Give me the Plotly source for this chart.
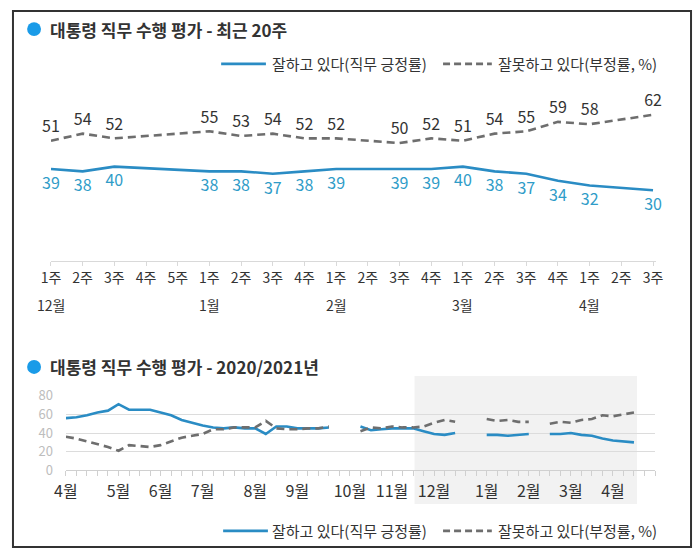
import plotly.graph_objects as go
import pandas as pd

W, H = 699, 557
FONT = "Noto Sans CJK KR"

# ---------------- data: last 20 weeks (top chart) ----------------
week_labels = ["1주", "2주", "3주", "4주", "5주",
               "1주", "2주", "3주", "4주",
               "1주", "2주", "3주", "4주",
               "1주", "2주", "3주", "4주",
               "1주", "2주", "3주"]
month_labels = ["12월", "1월", "2월", "3월", "4월"]
month_first_week = [0, 5, 9, 13, 17]
recent_pos = [39, 38, 40, None, None, 38, 38, 37, 38, 39, None, 39, 39, 40, 38, 37, 34, 32, None, 30]
recent_neg = [51, 54, 52, None, None, 55, 53, 54, 52, 52, None, 50, 52, 51, 54, 55, 59, 58, None, 62]

# ---------------- data: 2020/2021 weekly (bottom chart) ----------------
first_week = "2020-04-02"
n_weeks = 55
early_pos = [56, 57, 59, 62, 64, 71, 65, 65, 65, 62, 59, 54, 51, 48, 46, 45, 46, 45, 45, 39,
             47, 47, 45, 45, 45, 46, None, None, 47, 43, 44, 45, 45, 45, 42]
early_neg = [36, 34, 31, 28, 25, 21, 27, 26, 25, 27, 31, 35, 37, 39, 44, 44, 46, 46, 46, 53,
             45, 44, 44, 45, 45, 47, None, None, 42, 46, 45, 47, 46, 46, 47]
joined_weeks = ["2021-04-08"]   # no survey, but line drawn through
year_month_ticks = ["2020-04-02", "2020-05-07", "2020-06-04", "2020-07-02", "2020-08-06",
                    "2020-09-03", "2020-10-08", "2020-11-05", "2020-12-03", "2021-01-07",
                    "2021-02-04", "2021-03-04", "2021-04-01"]
year_month_labels = ["4월", "5월", "6월", "7월", "8월", "9월", "10월", "11월", "12월",
                     "1월", "2월", "3월", "4월"]
recent_shade = ["2020-11-20", "2021-04-17"]
axis_end = "2021-04-29"

POS_NAME = "잘하고 있다(직무 긍정률)"
NEG_NAME = "잘못하고 있다(부정률, %)"

BLUE = "#2a8cc4"
BLUE_TXT = "#2f9cc8"
GRAY = "#6e6e6e"
DARK = "#333333"

# the page is shown with an outer 8px frame and scaled to the window;
# layout positions below are given in final picture pixels and mapped back.
SX, SY, OFF = W / (W + 16), H / (H + 16), 8


def fx(p):
    return (p / SX - OFF) / W


def fy(p):
    return 1 - (p / SY - OFF) / H


fig = go.Figure()

# ---- top chart ----
top_x = list(range(len(week_labels)))
fig.add_trace(go.Scatter(
    x=top_x, y=recent_pos, mode="lines+markers+text", connectgaps=True,
    text=["" if v is None else str(v) for v in recent_pos], textposition="bottom center",
    textfont=dict(family=FONT, size=16, color=BLUE_TXT),
    marker=dict(size=11, color="rgba(0,0,0,0)"),
    line=dict(color=BLUE, width=2.6), name=POS_NAME, showlegend=False,
    cliponaxis=False, xaxis="x", yaxis="y", hoverinfo="skip"))
fig.add_trace(go.Scatter(
    x=top_x, y=recent_neg, mode="lines+markers+text", connectgaps=True,
    text=["" if v is None else str(v) for v in recent_neg], textposition="top center",
    textfont=dict(family=FONT, size=16, color=DARK),
    marker=dict(size=6, color="rgba(0,0,0,0)"),
    line=dict(color=GRAY, width=2.6, dash="8px,5px"), name=NEG_NAME, showlegend=False,
    cliponaxis=False, xaxis="x", yaxis="y", hoverinfo="skip"))

# ---- bottom chart ----
dates = pd.date_range(first_week, periods=n_weeks, freq="7D")
all_pos = early_pos + recent_pos
all_neg = early_neg + recent_neg
keep = [i for i, d in enumerate(dates) if d.strftime("%Y-%m-%d") not in joined_weeks]
bx = [dates[i] for i in keep]
bpos = [all_pos[i] for i in keep]
bneg = [all_neg[i] for i in keep]

fig.add_trace(go.Scatter(
    x=bx, y=bpos, mode="lines", connectgaps=False,
    line=dict(color=BLUE, width=2.6), name=POS_NAME, showlegend=False,
    xaxis="x2", yaxis="y2", hoverinfo="skip"))
fig.add_trace(go.Scatter(
    x=bx, y=bneg, mode="lines", connectgaps=False,
    line=dict(color=GRAY, width=2.6, dash="8px,5px"), name=NEG_NAME, showlegend=False,
    xaxis="x2", yaxis="y2", hoverinfo="skip"))

annotations = []
for idx, m in zip(month_first_week, month_labels):
    annotations.append(dict(x=idx, xref="x", y=fy(305), yref="paper", text=m,
                            showarrow=False, font=dict(family=FONT, size=14, color=DARK),
                            xanchor="center", yanchor="middle"))
for ty, ttl in [(27, "대통령 직무 수행 평가 - 최근 20주"), (367, "대통령 직무 수행 평가 - 2020/2021년")]:
    annotations.append(dict(x=fx(44), y=fy(ty), xref="paper", yref="paper",
                            text="<b>" + ttl + "</b>", showarrow=False,
                            xanchor="left", yanchor="middle",
                            font=dict(family=FONT, size=17, color=DARK)))

shapes = [
    dict(type="rect", xref="x2", yref="paper", x0=recent_shade[0], x1=recent_shade[1],
         y0=fy(505), y1=fy(376), fillcolor="#f2f2f2", line=dict(width=0), layer="below"),
    dict(type="rect", xref="paper", yref="paper", x0=1 / W, x1=698 / W,
         y0=1 / H, y1=556 / H, line=dict(color="#333333", width=2), fillcolor="rgba(0,0,0,0)"),
]
for cy in (27, 367):
    shapes.append(dict(type="circle", xref="paper", yref="paper", x0=fx(23), x1=fx(37),
                       y0=fy(cy + 7), y1=fy(cy - 7), fillcolor="#1a9be8", line=dict(width=0)))

# hand-drawn legends (top and bottom)
for ly, lx in [(62, 218), (532, 220)]:
    shapes.append(dict(type="line", xref="paper", yref="paper", x0=fx(lx), x1=fx(lx + 45),
                       y0=fy(ly), y1=fy(ly), line=dict(color=BLUE, width=2.6)))
    shapes.append(dict(type="line", xref="paper", yref="paper", x0=fx(441), x1=fx(490),
                       y0=fy(ly), y1=fy(ly), line=dict(color=GRAY, width=2.6, dash="7px,4px")))
    annotations.append(dict(x=fx(267), y=fy(ly), xref="paper", yref="paper", text=POS_NAME,
                            showarrow=False, xanchor="left", yanchor="middle",
                            font=dict(family=FONT, size=15, color=DARK)))
    annotations.append(dict(x=fx(494), y=fy(ly), xref="paper", yref="paper", text=NEG_NAME,
                            showarrow=False, xanchor="left", yanchor="middle",
                            font=dict(family=FONT, size=15, color=DARK)))

fig.update_layout(
    width=W, height=H, margin=dict(l=0, r=0, t=0, b=0),
    paper_bgcolor="white", plot_bgcolor="rgba(0,0,0,0)",
    font=dict(family=FONT, color=DARK),
    showlegend=False,
    xaxis=dict(domain=[fx(47), fx(655.2)], range=[0, 19.1], anchor="y",
               tickmode="array", tickvals=top_x, ticktext=week_labels,
               showline=True, linecolor="#d9d9d9", linewidth=1,
               ticks="outside", ticklen=4, tickcolor="#d9d9d9",
               showgrid=False, zeroline=False, ticklabelstandoff=0,
               tickfont=dict(family=FONT, size=14, color=DARK)),
    yaxis=dict(domain=[fy(260.2), fy(94.3)], range=[0, 70], visible=False, anchor="x"),
    xaxis2=dict(domain=[fx(62), fx(654)], range=[first_week, axis_end], type="date",
                anchor="y2", tickmode="array", tickvals=year_month_ticks,
                ticktext=year_month_labels, showline=True, linecolor="#d0d0d0",
                ticks="outside", ticklen=5, tickcolor="#d0d0d0", showgrid=False,
                zeroline=False, ticklabelstandoff=2,
                minor=dict(ticks="outside", dtick=7 * 86400000, tick0=first_week,
                           ticklen=5, tickcolor="#d0d0d0", showgrid=False),
                tickfont=dict(family=FONT, size=16, color=DARK)),
    yaxis2=dict(domain=[fy(471), fy(396)], range=[0, 80], anchor="x2",
                tickvals=[0, 20, 40, 60, 80], showgrid=True, gridcolor="#dcdcdc",
                zeroline=False, showline=False, ticks="", ticklabelstandoff=12,
                tickfont=dict(family=FONT, size=13, color="#bdbdbd")),
    annotations=annotations,
    shapes=shapes,
)

page_css = (
    "var _s=document.createElement('style');"
    "_s.textContent='html,body{margin:0 !important;padding:0 !important;overflow:hidden;}';"
    "document.head.appendChild(_s);"
)

fig.write_html(
    "out.html",
    config={"displayModeBar": False, "staticPlot": True},
    post_script=page_css,
)
